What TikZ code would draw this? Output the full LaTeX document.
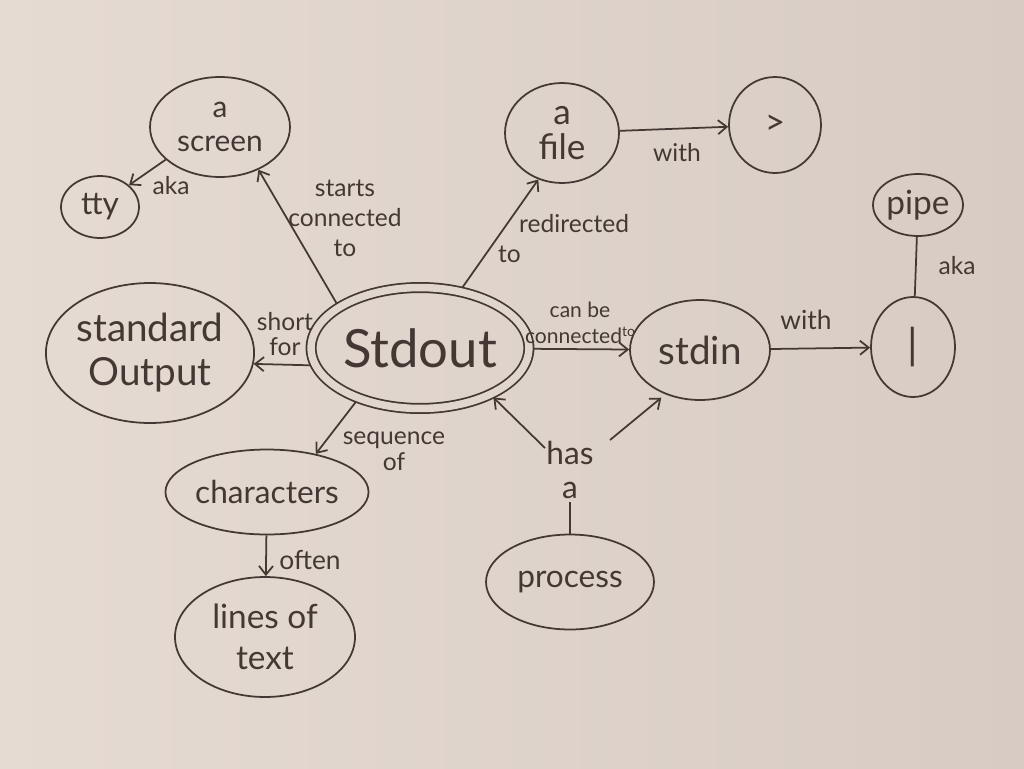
\documentclass[tikz,border=0pt]{standalone}
\usepackage{fontspec}
\setmainfont{Lato}
\usetikzlibrary{shapes.geometric,arrows.meta}
\definecolor{paperL}{RGB}{230,219,211}
\definecolor{paperM}{RGB}{225,214,206}
\definecolor{paperD}{RGB}{215,203,196}
\definecolor{ink}{RGB}{68,56,52}
\begin{document}
\begin{tikzpicture}[x=0.02cm,y=-0.02cm,
  bub/.style={ellipse,draw=ink,line width=1pt,inner sep=0pt,align=center,text=ink,
              font=\fontsize{17}{19}\selectfont},
  lbl/.style={align=center,inner sep=1pt,text=ink,font=\fontsize{14}{17}\selectfont},
  arr/.style={draw=ink,line width=1pt,-{Straight Barb[length=5pt,width=8pt]}},
  ln/.style={draw=ink,line width=1pt}]
\fill[left color=paperL,right color=paperD] (0,0) rectangle (1024,768);
\useasboundingbox (0,0) rectangle (1024,768);

% nodes
\node[bub,minimum width=2.8cm,minimum height=2.0cm] (screen) at (220,127) {a\\screen};
\node[bub,minimum width=1.56cm,minimum height=1.24cm,font=\fontsize{18}{20}\selectfont] (tty) at (100,207) {tty};
\node[bub,minimum width=2.28cm,minimum height=2.0cm,font=\fontsize{20}{20}\selectfont] (file) at (562,133) {a\\file};
\node[bub,minimum width=1.84cm,minimum height=1.92cm,font=\fontsize{20}{22}\selectfont] (gt) at (775,125) {>};
\node[bub,minimum width=1.8cm,minimum height=1.24cm,font=\fontsize{19}{21}\selectfont] (pipe) at (918,205) {pipe};
\node[bub,minimum width=3.7cm,minimum height=2.8cm,font=\fontsize{22}{25}\selectfont] (standard) at (150,353) {standard\\Output};
\node[bub,double=paperM,double distance=0.15cm,minimum width=3.62cm,minimum height=2.42cm,
      outer sep=0.09cm,font=\fontsize{30}{32}\selectfont] (Stdout) at (420,348) {Stdout};
\node[bub,minimum width=2.8cm,minimum height=2.0cm,font=\fontsize{22}{24}\selectfont] (stdin) at (700,350) {stdin};
\node[bub,minimum width=1.68cm,minimum height=2.0cm,font=\fontsize{24}{26}\selectfont] (bar) at (913,347) {|};
\node[bub,minimum width=3.6cm,minimum height=1.7cm,font=\fontsize{18}{20}\selectfont] (characters) at (267,492) {characters};
\node[bub,minimum width=3.6cm,minimum height=2.4cm,font=\fontsize{19}{23}\selectfont] (lines) at (265,637) {lines of\\text};
\node[bub,minimum width=3.36cm,minimum height=1.9cm,font=\fontsize{18}{20}\selectfont] (process) at (570,582) {process};
\node[align=center,text=ink,inner sep=2pt,font=\fontsize{18}{19}\selectfont] (hasa) at (570,470) {has\\a};

% connectors
\draw[arr] (Stdout.152) -- (screen.-48);
\node[lbl] (l1) at (345,218) {starts\\connected\\to};

\draw[arr] (screen.211) -- (tty.37);
\node[lbl] (l2) at (171,186) {aka};

\draw[arr] (Stdout.55) -- (file.-117);
\node[lbl,align=left,anchor=north west] (l3) at (496,212) {\hspace{12pt}redirected\\to};

\draw[arr] (file) -- (gt);
\node[lbl] (l4) at (677,153) {with};

\draw[arr] (Stdout.189) -- (standard.-6);
\node[lbl,font=\fontsize{14}{14}\selectfont] (l5) at (285,334) {short\\for};

\draw[arr] (Stdout) -- (stdin);
\node[lbl,font=\fontsize{12}{15}\selectfont] (l6) at (580,323) {can be\\connected{\fontsize{8}{8}\selectfont\raisebox{4pt}{to}}};

\draw[arr] (stdin) -- (bar);
\node[lbl,font=\fontsize{15}{17}\selectfont] (l7) at (806,320) {with};

\draw[ln] (pipe) -- (bar);
\node[lbl] (l8) at (957,266) {aka};

\draw[arr] (Stdout.220) -- (characters.38);
\node[lbl,font=\fontsize{14}{15}\selectfont] (l9) at (394,451) {sequence\\of};

\draw[arr] (characters) -- (lines);
\node[lbl,font=\fontsize{15}{17}\selectfont] (l10) at (310,560) {often};

\draw[ln] (process.north) -- (hasa.south);
\draw[arr] ([shift={(-25,-22)}]hasa.center) -- (Stdout.-34);
\draw[arr,shorten >=3pt] ([shift={(40,-30)}]hasa.center) -- (stdin.-128);
\end{tikzpicture}
\end{document}
